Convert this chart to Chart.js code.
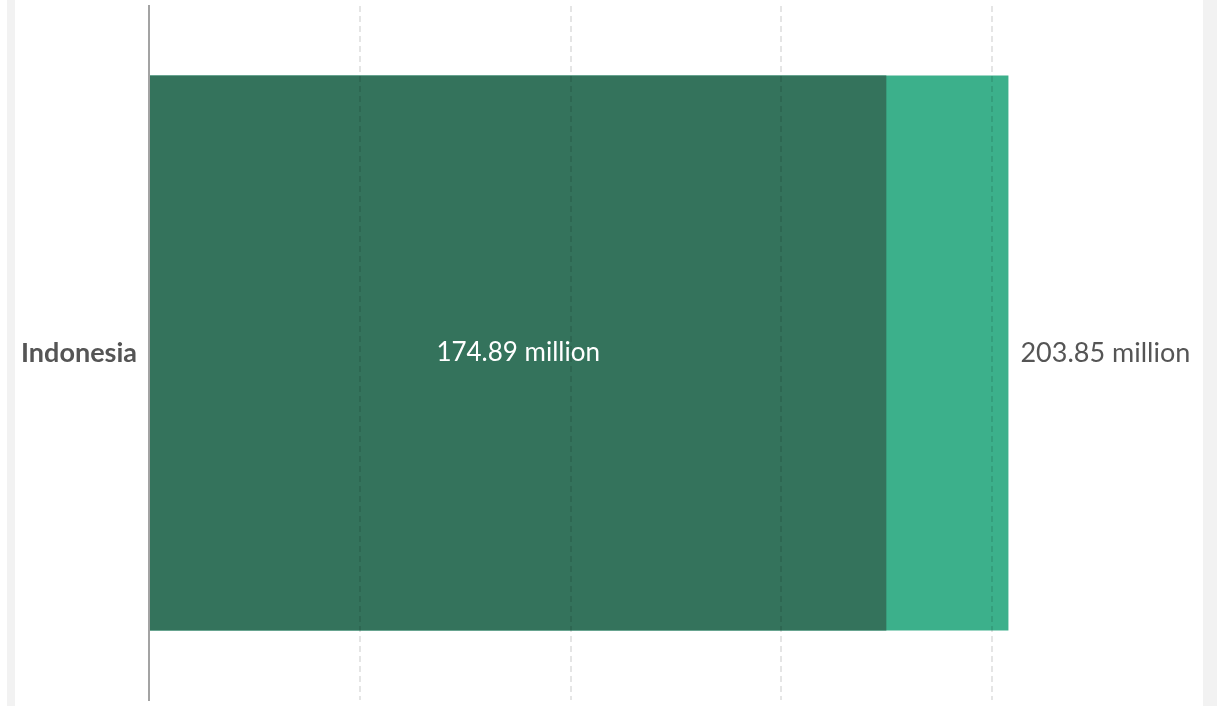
<!DOCTYPE html>
<html>
<head>
<meta charset="utf-8">
<script src="https://cdn.jsdelivr.net/npm/chart.js@4"></script>
<style>
  html, body { margin: 0; padding: 0; background: #fff; }
  .frame {
    position: absolute; left: 7px; top: 0;
    width: 1188px; height: 706px;
    border-left: 8px solid #f2f2f2;
    border-right: 14px solid #f2f2f2;
    background: #fff;
  }
  canvas { display: block; }
</style>
</head>
<body>
<div class="frame"><canvas id="bars" width="1188" height="706"></canvas></div>
<script>
const countries = ['Indonesia'];
const firstValues = [174.89];   // dark bar
const secondValues = [203.85];  // light bar
const firstLabels = ['174.89 million'];
const secondLabels = ['203.85 million'];

const fontFamily = 'Lato, "Open Sans", sans-serif';

const valueLabels = {
    id: 'valueLabels',
    afterDatasetsDraw(chart) {
        const ctx = chart.ctx;
        ctx.save();
        ctx.textBaseline = 'middle';

        const dark = chart.getDatasetMeta(0);
        dark.data.forEach((bar, i) => {
            ctx.font = '26px ' + fontFamily;
            ctx.fillStyle = '#ffffff';
            ctx.textAlign = 'center';
            ctx.fillText(firstLabels[i], (bar.x + bar.base) / 2, bar.y);
        });

        const light = chart.getDatasetMeta(1);
        light.data.forEach((bar, i) => {
            ctx.font = '27px ' + fontFamily;
            ctx.fillStyle = '#555555';
            ctx.textAlign = 'left';
            ctx.fillText(secondLabels[i], bar.x + 12, bar.y);
        });
        ctx.restore();
    }
};

const ctx = document.querySelector('#bars');
new Chart(ctx, {
    type: 'bar',
    data: {
        labels: countries,
        datasets: [
            {
                label: 'first',
                data: firstValues,
                backgroundColor: 'rgb(52,115,92)',
                grouped: false,
                categoryPercentage: 0.8,
                barPercentage: 1.0
            },
            {
                label: 'second',
                data: secondValues,
                backgroundColor: 'rgb(60,176,139)',
                grouped: false,
                categoryPercentage: 0.8,
                barPercentage: 1.0
            }
        ]
    },
    options: {
        indexAxis: 'y',
        responsive: false,
        animation: false,
        layout: { padding: { top: 6, bottom: 6, right: 0, left: 0 } },
        plugins: {
            legend: { display: false },
            tooltip: { enabled: false }
        },
        scales: {
            x: {
                min: 0,
                max: 250,
                ticks: { display: false, stepSize: 50 },
                border: { display: false, dash: [6, 4] },
                grid: {
                    color: (c) => (c.tick && c.tick.value > 0 && c.tick.value < 250) ? 'rgba(0,0,0,0.1)' : 'rgba(0,0,0,0)',
                    drawTicks: false,
                    lineWidth: 2,
                    z: 1
                },
                afterFit: (scale) => {
                    scale.height = 0;
                    scale.paddingLeft = 0;
                    scale.paddingRight = 0;
                }
            },
            y: {
                grid: { display: false, drawTicks: false },
                border: { display: true, color: '#a3a3a3', width: 2 },
                ticks: {
                    color: '#555555',
                    padding: 12,
                    font: { family: fontFamily, size: 27, weight: 'bold' }
                },
                afterFit: (scale) => {
                    scale.width = 134;
                    scale.paddingTop = 0;
                    scale.paddingBottom = 0;
                }
            }
        }
    },
    plugins: [valueLabels]
});
</script>
</body>
</html>
